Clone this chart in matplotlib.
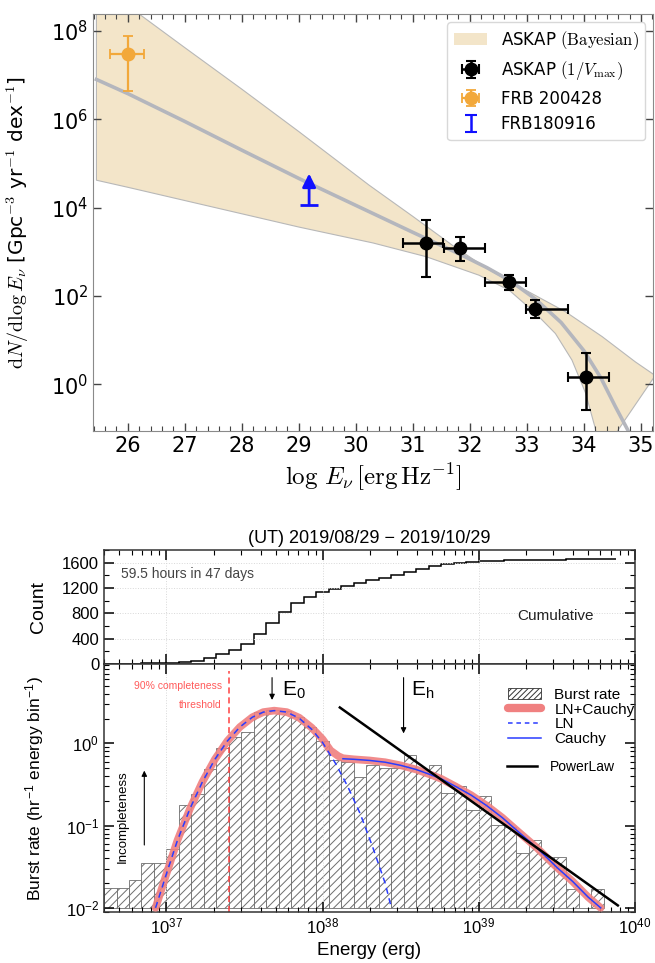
import numpy as np
import matplotlib
matplotlib.use("Agg")
import matplotlib.pyplot as plt
from matplotlib.patches import Patch
from matplotlib.lines import Line2D
from matplotlib.ticker import MultipleLocator, NullLocator, FixedLocator, LogLocator, NullFormatter

plt.rcParams['font.family'] = ['DejaVu Sans']
plt.rcParams['mathtext.fontset'] = 'cm'
plt.rcParams['hatch.linewidth'] = 0.7
plt.rcParams['hatch.color'] = '#5a5a5a'

# ---------------- top panel: ASKAP energy function (log10 values) ----------------
band_hi_x = [25.45, 26.20, 27.0, 28.0, 29.0, 30.23, 31.0, 31.69, 32.3, 32.98, 33.68, 34.32, 34.90, 35.25]
band_hi_logy = [9.10, 8.38, 7.62, 6.68, 5.72, 4.51, 3.80, 3.15, 2.62, 2.13, 1.64, 1.08, 0.51, 0.20]
band_lo_x = [25.45, 26.0, 27.0, 28.0, 29.0, 30.3, 31.23, 32.16, 32.69, 33.15, 33.50, 33.79, 34.03, 34.20, 34.30]
band_lo_logy = [4.62, 4.46, 4.16, 3.86, 3.56, 3.20, 2.89, 2.47, 2.13, 1.61, 1.15, 0.55, -0.20, -1.00, -1.60]
mid_x = [25.45, 26.0, 27.0, 28.0, 29.0, 30.0, 31.0, 31.8, 32.3, 32.7, 33.15, 33.6, 34.0, 34.3, 34.55, 34.78]
mid_logy = [6.90, 6.58, 5.95, 5.30, 4.66, 4.05, 3.44, 2.96, 2.64, 2.35, 1.93, 1.40, 0.76, 0.14, -0.50, -1.06]

askap_x = [31.23, 31.82, 32.69, 33.15, 34.03]
askap_xlo = [30.82, 31.55, 32.26, 32.99, 33.72]
askap_xhi = [31.53, 32.26, 32.98, 33.72, 34.44]
askap_y = [1600, 1190, 206, 52, 1.5]
askap_ylo = [263, 630, 136, 31, 0.26]
askap_yhi = [5200, 2130, 296, 83, 5.0]

frb200428_x, frb200428_xlo, frb200428_xhi = 26.0, 25.69, 26.29
frb200428_y, frb200428_ylo, frb200428_yhi = 2.95e7, 4.4e6, 7.6e7

frb180916_x, frb180916_ylo, frb180916_yhi = 29.18, 1.17e4, 5.9e4

# ---------------- bottom panels: burst energy distribution ----------------
log_edges = np.round(np.arange(36.6, 39.881, 0.08), 2)   # 0.08 dex energy bins
hist_rate = [0.0173, 0.0173, 0.0218, 0.0348, 0.0348, 0.052, 0.177, 0.245, 0.489, 0.87,
             1.18, 1.36, 2.38, 2.54, 2.47, 2.1, 1.6, 1.07, 0.63, 0.60,
             0.39, 0.55, 0.50, 0.50, 0.72, 0.47, 0.54, 0.248, 0.304, 0.155,
             0.226, 0.103, 0.095, 0.047, 0.066, 0.041, 0.041, 0.0168, 0.0, 0.0168]
cum_count = [2, 4, 6, 9, 12, 20, 35, 55, 95, 150,
             222, 322, 478, 652, 813, 962, 1058, 1134, 1176, 1227,
             1273, 1319, 1365, 1408, 1458, 1505, 1546, 1572, 1597, 1612,
             1624, 1632, 1638, 1642, 1645, 1647, 1649, 1650, 1650, 1651, 1652]

ln_logE = [36.93, 37.00, 37.07, 37.15, 37.23, 37.31, 37.39, 37.47, 37.55, 37.62, 37.69,
           37.77, 37.85, 37.93, 38.00, 38.08, 38.16, 38.24, 38.32, 38.40, 38.44]
ln_rate = [0.010, 0.026, 0.066, 0.16, 0.34, 0.64, 1.07, 1.58, 2.08, 2.40, 2.50,
           2.40, 2.02, 1.48, 1.02, 0.58, 0.30, 0.14, 0.055, 0.020, 0.010]
cauchy_logE = [38.13, 38.20, 38.30, 38.40, 38.50, 38.60, 38.70, 38.76, 38.85, 38.95,
               39.05, 39.15, 39.25, 39.37, 39.50, 39.60, 39.70, 39.78]
cauchy_rate = [0.65, 0.64, 0.62, 0.59, 0.54, 0.48, 0.41, 0.37, 0.30, 0.235,
               0.175, 0.125, 0.085, 0.054, 0.031, 0.021, 0.0135, 0.010]
tot_logE = [36.93, 37.00, 37.07, 37.15, 37.23, 37.31, 37.39, 37.47, 37.55, 37.62, 37.69,
            37.77, 37.85, 37.93, 38.00, 38.05, 38.10, 38.13, 38.20, 38.30, 38.40, 38.50,
            38.60, 38.70, 38.76, 38.85, 38.95, 39.05, 39.15, 39.25, 39.37, 39.50, 39.60,
            39.70, 39.78]
tot_rate = [0.010, 0.026, 0.066, 0.16, 0.34, 0.64, 1.07, 1.58, 2.08, 2.40, 2.50,
            2.40, 2.05, 1.55, 1.12, 0.82, 0.70, 0.66, 0.64, 0.62, 0.59, 0.54,
            0.48, 0.41, 0.37, 0.30, 0.235, 0.175, 0.125, 0.085, 0.054, 0.031, 0.021,
            0.0135, 0.010]
pl_logE = [38.11, 39.89]
pl_rate = [2.73, 0.0107]

threshold_logE = 37.40
e0_logE = 37.676
eh_logE = 38.518

fig = plt.figure(figsize=(6.55, 9.63), dpi=100, facecolor='white')

# ================= top figure =================
ax1 = fig.add_axes([0.142, 0.5527, 0.8557, 0.4327])
band_color = '#f3e5c9'
ax1.fill(np.r_[band_hi_x, band_lo_x[::-1]], 10 ** np.r_[band_hi_logy, band_lo_logy[::-1]],
         facecolor=band_color, edgecolor='#b8b8b8', lw=0.8, zorder=1)
ax1.plot(mid_x, 10 ** np.array(mid_logy), color='#b4b6bd', lw=2.6, zorder=2)

xerr = [np.subtract(askap_x, askap_xlo), np.subtract(askap_xhi, askap_x)]
yerr = [np.subtract(askap_y, askap_ylo), np.subtract(askap_yhi, askap_y)]
h_askap = ax1.errorbar(askap_x, askap_y, xerr=xerr, yerr=yerr, fmt='o', color='k', ms=9,
                       elinewidth=1.8, capsize=3.5, capthick=1.5, zorder=5)
h_frb1 = ax1.errorbar([frb200428_x], [frb200428_y],
                      xerr=[[frb200428_x - frb200428_xlo], [frb200428_xhi - frb200428_x]],
                      yerr=[[frb200428_y - frb200428_ylo], [frb200428_yhi - frb200428_y]],
                      fmt='o', color='#f2a83a', ms=9, elinewidth=1.6, capsize=3.5, capthick=1.3, zorder=5)
# lower limit for FRB180916: cap at the bottom, arrow upwards
ax1.annotate('', xy=(frb180916_x, frb180916_yhi), xytext=(frb180916_x, frb180916_ylo),
             arrowprops=dict(arrowstyle='-|>', color='#1010ff', lw=2, mutation_scale=20,
                             shrinkA=0, shrinkB=0), zorder=5)
ax1.plot([frb180916_x], [frb180916_ylo], marker='_', ms=13, mew=2, color='#1010ff', zorder=5)
h_frb2 = ax1.errorbar([np.nan], [np.nan], yerr=[1], fmt='none', ecolor='#1010ff',
                      elinewidth=1.8, capsize=4, capthick=1.5)

ax1.set_yscale('log')
ax1.set_xlim(25.39, 35.22)
ax1.set_ylim(10 ** -1.05, 10 ** 8.38)
ax1.xaxis.set_major_locator(MultipleLocator(1))
ax1.xaxis.set_minor_locator(MultipleLocator(0.2))
ax1.yaxis.set_major_locator(FixedLocator([1e0, 1e2, 1e4, 1e6, 1e8]))
ax1.yaxis.set_minor_locator(NullLocator())
ax1.tick_params(which='both', direction='in', top=True, right=True, colors='#444', labelcolor='k',
                labelsize=15)
ax1.tick_params(which='major', length=6, width=1)
ax1.tick_params(which='minor', length=3.5, width=0.8)
for s in ax1.spines.values():
    s.set_color('#8a8a8a')
ax1.set_xlabel(r'$\log\,E_\nu\,[\mathrm{erg}\,\mathrm{Hz}^{-1}]$', fontsize=18, labelpad=4)
ax1.set_ylabel(r'$\mathrm{d}N/\mathrm{d}\log E_\nu$ [Gpc$^{-3}$ yr$^{-1}$ dex$^{-1}$]', fontsize=14.5)
ax1.yaxis.set_label_coords(-0.11, 0.5)

leg1 = ax1.legend([Patch(facecolor=band_color, edgecolor='none'), h_askap, h_frb1, h_frb2],
                  [r'ASKAP $(\mathrm{Bayesian})$', r'ASKAP $(1/V_{\rm max})$', 'FRB 200428', 'FRB180916'],
                  loc='upper right', fontsize=12, framealpha=1, edgecolor='#d8d8d8',
                  borderaxespad=0.5, labelspacing=0.45, handlelength=2.0)

# ================= bottom figure =================
sans = 'Liberation Sans'
E_edges = 10 ** log_edges
bar_floor = 0.01   # bars start at the 10^-2 line

ax2 = fig.add_axes([0.1588, 0.3105, 0.8107, 0.1184])
ax3 = fig.add_axes([0.1588, 0.053, 0.8107, 0.2575], sharex=ax2)

# cumulative count
ax2.stairs(cum_count, E_edges, baseline=None, color='k', lw=1.1)
ax2.set_xscale('log')
ax2.set_xlim(10 ** 36.6, 10 ** 40.0)
ax2.set_ylim(0, 1800)
ax2.yaxis.set_major_locator(FixedLocator([0, 400, 800, 1200, 1600]))
ax2.yaxis.set_minor_locator(MultipleLocator(200))
ax2.grid(True, which='major', color='#d8d8d8', ls=':', lw=0.7)
ax2.set_ylabel('Count', fontsize=14, family=sans)
ax2.yaxis.set_label_coords(-0.107, 0.5)
ax2.set_title('(UT) 2019/08/29 \u2212 2019/10/29', fontsize=13, family=sans, pad=5)
ax2.text(0.032, 0.785, '59.5 hours in 47 days', transform=ax2.transAxes, fontsize=10,
         family=sans, color='#444', va='center')
ax2.text(0.851, 0.42, 'Cumulative', transform=ax2.transAxes, fontsize=11, family=sans,
         ha='center', va='center', color='#222')
plt.setp(ax2.get_xticklabels(), visible=False)

# burst rate histogram
bar_h = np.clip(np.subtract(hist_rate, bar_floor), 0, None)
ax3.bar(E_edges[:-2], bar_h, width=np.diff(E_edges[:-1]), bottom=bar_floor, align='edge',
        facecolor='white', edgecolor='#6e6e6e', lw=0.6, hatch='////', zorder=1)
ax3.plot(10 ** np.array(tot_logE), tot_rate, color='#f08080', lw=5.5, alpha=0.9,
         solid_capstyle='round', zorder=3)
ax3.plot(10 ** np.array(ln_logE), ln_rate, color='#2a3cff', lw=1.1, ls=(0, (4, 3)), zorder=4)
ax3.plot(10 ** np.array(cauchy_logE), cauchy_rate, color='#2a3cff', lw=1.1, zorder=4)
ax3.plot(10 ** np.array(pl_logE), pl_rate, color='k', lw=1.8, zorder=4)

ax3.axvline(10 ** threshold_logE, ymin=0, ymax=0.97, color='#ff4040', ls=(0, (4, 2.5)), lw=1.1, zorder=2)
ax3.text(10 ** 37.355, 0.9125, '90% completeness', transform=ax3.get_xaxis_transform(),
         ha='right', va='center', fontsize=7.5, color='#ff5a5a', family=sans)
ax3.text(10 ** 37.355, 0.835, 'threshold', transform=ax3.get_xaxis_transform(),
         ha='right', va='center', fontsize=7.5, color='#ff5a5a', family=sans)

arrow_kw = dict(arrowstyle='-|>', color='k', lw=0.8, mutation_scale=8, shrinkA=0, shrinkB=0)
tr = ax3.get_xaxis_transform()
ax3.annotate('', xy=(10 ** e0_logE, 0.855), xytext=(10 ** e0_logE, 0.945), xycoords=tr,
             textcoords=tr, arrowprops=arrow_kw)
ax3.annotate('', xy=(10 ** eh_logE, 0.72), xytext=(10 ** eh_logE, 0.945), xycoords=tr,
             textcoords=tr, arrowprops=arrow_kw)
ax3.text(10 ** 37.74, 0.895, r'E$_{\mathregular{0}}$', transform=tr, fontsize=15, family=sans,
         va='center')
ax3.text(10 ** 38.565, 0.895, r'E$_{\mathregular{h}}$', transform=tr, fontsize=15, family=sans,
         va='center')
ax3.text(10 ** 36.72, 0.383, 'Incompleteness', transform=tr, rotation=90, fontsize=9.5,
         family=sans, ha='center', va='center')
ax3.annotate('', xy=(10 ** 36.858, 0.57), xytext=(10 ** 36.858, 0.27), xycoords=tr,
             textcoords=tr, arrowprops=arrow_kw)

ax3.set_yscale('log')
ax3.set_ylim(10 ** -2.05, 10 ** 0.965)
ax3.yaxis.set_major_locator(LogLocator(base=10, numticks=10))
ax3.yaxis.set_minor_locator(LogLocator(base=10, subs=np.arange(2, 10), numticks=10))
ax3.yaxis.set_minor_formatter(NullFormatter())
ax3.grid(True, which='major', axis='x', color='#d8d8d8', ls=':', lw=0.7)
ax3.set_xlabel('Energy (erg)', fontsize=13.5, family=sans)
ax3.set_ylabel(r'Burst rate (hr$^{\mathregular{-1}}$ energy bin$^{\mathregular{-1}}$)',
               fontsize=12.5, family=sans)
ax3.yaxis.set_label_coords(-0.107, 0.5)

for ax in (ax2, ax3):
    ax.xaxis.set_major_locator(LogLocator(base=10, numticks=10))
    ax.xaxis.set_minor_locator(LogLocator(base=10, subs=np.arange(2, 10), numticks=10))
    ax.xaxis.set_minor_formatter(NullFormatter())
    ax.tick_params(which='both', direction='in', top=True, right=True, labelsize=12,
                   labelfontfamily=sans)
    ax.tick_params(which='major', length=7, width=1.1)
    ax.tick_params(which='minor', length=3.5, width=0.8)
    for s in ax.spines.values():
        s.set_color('#333')
        s.set_linewidth(1.1)

h_burst = Patch(facecolor='white', edgecolor='#333', hatch='//////', lw=0.6)
h_tot = Line2D([], [], color='#f08080', lw=6, solid_capstyle='round')
h_ln = Line2D([], [], color='#2a3cff', lw=1.1, ls=(0, (3, 2.5)))
h_ca = Line2D([], [], color='#2a3cff', lw=1.1)
leg3 = ax3.legend([h_burst, h_tot, h_ln, h_ca], ['Burst rate', 'LN+Cauchy', 'LN', 'Cauchy'],
                  loc='upper left', bbox_to_anchor=(0.746, 0.935), frameon=False, borderpad=0,
                  labelspacing=0.05, handlelength=2.15, handletextpad=0.9,
                  prop={'family': sans, 'size': 11})
ax3.add_artist(leg3)
ax3.legend([Line2D([], [], color='k', lw=1.8)], ['PowerLaw'], loc='upper left',
           bbox_to_anchor=(0.746, 0.64), frameon=False, borderpad=0, handlelength=2.15,
           handletextpad=0.9, prop={'family': sans, 'size': 10})

fig.savefig('out.png', dpi=100, facecolor='white')
